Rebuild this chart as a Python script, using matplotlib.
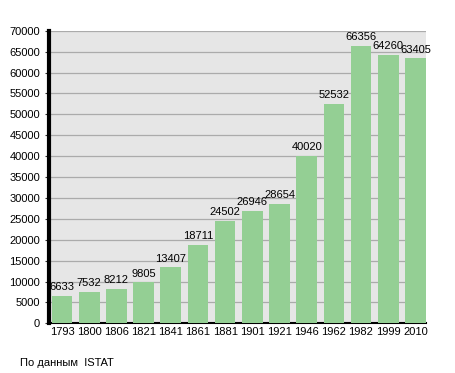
import matplotlib.pyplot as plt

years = ['1793', '1800', '1806', '1821', '1841', '1861', '1881',
         '1901', '1921', '1946', '1962', '1982', '1999', '2010']
population = [6633, 7532, 8212, 9805, 13407, 18711, 24502,
              26946, 28654, 40020, 52532, 66356, 64260, 63405]

plt.rcParams['font.family'] = ['Liberation Sans', 'DejaVu Sans']

fig = plt.figure(figsize=(4.55, 3.73), dpi=100)
ax = fig.add_axes([0.1077, 0.1332, 0.8279, 0.7845])
ax.set_facecolor('#e6e6e6')

x = list(range(len(years)))
bars = ax.bar(x, population, width=0.76, color='#94cf94', zorder=3)
for xi, v in zip(x, population):
    ax.text(xi, v + 900, str(v), ha='center', va='bottom', fontsize=8, zorder=4)

ax.set_xlim(-0.48, len(years) - 1 + 0.38)
ax.set_ylim(0, 70000)
ax.set_yticks(range(0, 70001, 5000))
ax.set_xticks(x)
ax.set_xticklabels(years)
ax.tick_params(axis='both', labelsize=8, length=3, width=0.8, color='#333333')
ax.tick_params(axis='x', length=0, pad=3)
ax.yaxis.grid(True, color='#ababab', linewidth=0.9, zorder=1)
ax.set_axisbelow(True)

for s in ['top', 'right']:
    ax.spines[s].set_visible(False)
ax.spines['left'].set_linewidth(3)
ax.spines['bottom'].set_linewidth(1.5)

fig.text(20 / 455, 1 - 363 / 373, 'По данным  ISTAT', fontsize=8, va='center', ha='left')

fig.savefig('out.png', dpi=100)
